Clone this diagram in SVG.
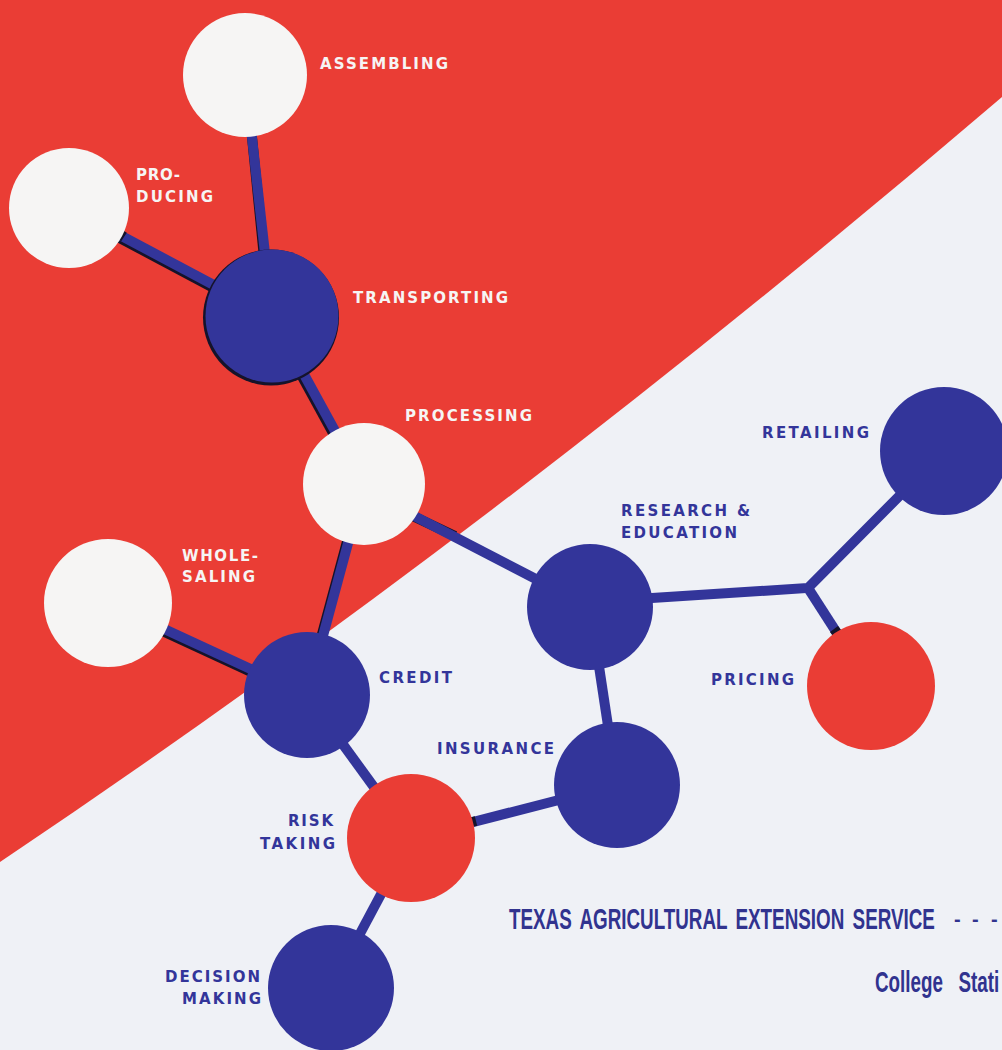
<svg xmlns="http://www.w3.org/2000/svg" width="1002" height="1050" viewBox="0 0 1002 1050">
<style>
.lbl{font-family:"DejaVu Sans","Liberation Sans",sans-serif;font-weight:bold;font-size:15px}
.w{fill:#f6f5f4}
.b{fill:#33359a}
.con{stroke:#33359a;stroke-width:10;fill:none;stroke-linecap:butt;stroke-linejoin:miter}
.sh{stroke:#15132a;stroke-width:10;fill:none;stroke-linecap:butt}
.cap{stroke:#15132a;stroke-width:10;stroke-linecap:butt}
.foot{font-family:"Liberation Sans",Arial,sans-serif;font-weight:bold;font-size:30px;fill:#31338f}
.dash{font-family:"Liberation Sans",Arial,sans-serif;font-weight:bold;font-size:20px;fill:#31338f}
</style>
<rect x="0" y="0" width="1002" height="1050" fill="#eff1f6"/>
<path d="M0,0 L1002,0 L1002,97 Q501,526 0,862 Z" fill="#ea3d35"/>

<g id="connectors">
  <line class="sh" x1="246" y1="77" x2="270" y2="318"/>
  <line class="sh" x1="67" y1="210" x2="270" y2="318"/>
  <line class="sh" x1="270" y1="318" x2="362" y2="486"/>
  <line class="sh" x1="362" y1="486" x2="305" y2="697"/>
  <line class="sh" x1="106" y1="605" x2="305" y2="697"/>
  <line class="sh" x1="362" y1="492" x2="455" y2="536"/>
  <line class="con" x1="245" y1="75" x2="272" y2="316"/>
  <line class="con" x1="69" y1="208" x2="272" y2="316"/>
  <line class="con" x1="272" y1="316" x2="364" y2="484"/>
  <line class="con" x1="364" y1="484" x2="307" y2="695"/>
  <line class="con" x1="364" y1="490" x2="590" y2="607"/>
  <line class="con" x1="108" y1="603" x2="307" y2="695"/>
  <line class="con" x1="307" y1="695" x2="411" y2="838"/>
  <line class="con" x1="411" y1="838" x2="331" y2="988"/>
  <line class="con" x1="411" y1="838" x2="617" y2="785"/>
  <line class="con" x1="590" y1="607" x2="617" y2="785"/>
  <polyline class="con" points="590,602 808,588 943,452"/>
  <line class="con" x1="808" y1="588" x2="871" y2="686"/>
  <line class="cap" x1="121" y1="235" x2="124" y2="237"/>
  <line class="cap" x1="834" y1="629" x2="837" y2="633"/>
  <line class="cap" x1="472" y1="822" x2="476" y2="821"/>
</g>

<g id="n-assembling">
  <circle cx="245" cy="75" r="62" class="w"/>
  <text class="lbl w" x="320" y="69" textLength="128" lengthAdjust="spacing">ASSEMBLING</text>
</g>
<g id="n-producing">
  <circle cx="69" cy="208" r="60" class="w"/>
  <text class="lbl w" x="136" y="180" textLength="44" lengthAdjust="spacing">PRO-</text>
  <text class="lbl w" x="136" y="202" textLength="77" lengthAdjust="spacing">DUCING</text>
</g>
<g id="n-transporting">
  <circle cx="271" cy="317.5" r="68" fill="#15132a"/>
  <circle cx="272" cy="316" r="66.5" class="b"/>
  <text class="lbl w" x="353" y="303" textLength="155" lengthAdjust="spacing">TRANSPORTING</text>
</g>
<g id="n-processing">
  <circle cx="364" cy="484" r="61" class="w"/>
  <text class="lbl w" x="405" y="421" textLength="127" lengthAdjust="spacing">PROCESSING</text>
</g>
<g id="n-wholesaling">
  <circle cx="108" cy="603" r="64" class="w"/>
  <text class="lbl w" x="182" y="561" textLength="76" lengthAdjust="spacing">WHOLE-</text>
  <text class="lbl w" x="182" y="582" textLength="73" lengthAdjust="spacing">SALING</text>
</g>
<g id="n-credit">
  <circle cx="307" cy="695" r="63" class="b"/>
  <text class="lbl b" x="379" y="683" textLength="73" lengthAdjust="spacing">CREDIT</text>
</g>
<g id="n-research">
  <circle cx="590" cy="607" r="63" class="b"/>
  <text class="lbl b" x="621" y="516" textLength="129" lengthAdjust="spacing">RESEARCH &amp;</text>
  <text class="lbl b" x="621" y="538" textLength="116" lengthAdjust="spacing">EDUCATION</text>
</g>
<g id="n-retailing">
  <circle cx="944" cy="451" r="64" class="b"/>
  <text class="lbl b" x="762" y="438" textLength="107" lengthAdjust="spacing">RETAILING</text>
</g>
<g id="n-pricing">
  <circle cx="871" cy="686" r="64" fill="#ea3d35"/>
  <text class="lbl b" x="711" y="685" textLength="83" lengthAdjust="spacing">PRICING</text>
</g>
<g id="n-insurance">
  <circle cx="617" cy="785" r="63" class="b"/>
  <text class="lbl b" x="437" y="754" textLength="117" lengthAdjust="spacing">INSURANCE</text>
</g>
<g id="n-risk">
  <circle cx="411" cy="838" r="64" fill="#ea3d35"/>
  <text class="lbl b" x="288" y="826" textLength="45" lengthAdjust="spacing">RISK</text>
  <text class="lbl b" x="260" y="849" textLength="75" lengthAdjust="spacing">TAKING</text>
</g>
<g id="n-decision">
  <circle cx="331" cy="988" r="63" class="b"/>
  <text class="lbl b" x="165" y="982" textLength="95" lengthAdjust="spacing">DECISION</text>
  <text class="lbl b" x="182" y="1004" textLength="79" lengthAdjust="spacing">MAKING</text>
</g>

<g id="footer">
  <text class="foot" transform="matrix(0.6276,0,0,1,509,929)" x="0" y="0" word-spacing="5">TEXAS AGRICULTURAL EXTENSION SERVICE</text>
  <text class="dash" x="954 972 991" y="926">---</text>
  <text class="foot" transform="matrix(0.6276,0,0,1,875,992)" x="0" y="0">College<tspan x="133">Stati</tspan></text>
</g>
</svg>
